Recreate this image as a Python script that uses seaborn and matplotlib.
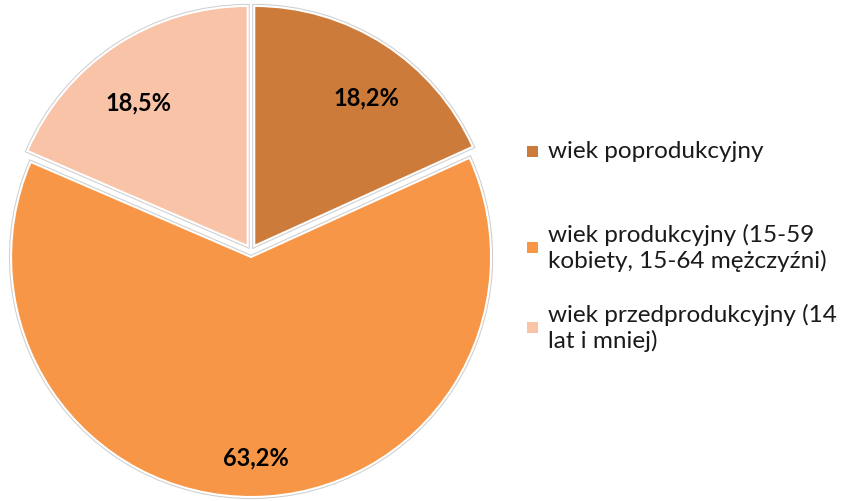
import seaborn as sns
import matplotlib.pyplot as plt
import matplotlib.patheffects as pe
from matplotlib.patches import Rectangle

sns.set_style('white')
plt.rcParams['font.family'] = ['Lato', 'DejaVu Sans']

# dane
kategorie = ['wiek poprodukcyjny',
             'wiek produkcyjny (15-59\nkobiety, 15-64 mężczyźni)',
             'wiek przedprodukcyjny (14\nlat i mniej)']
udzialy = [18.2, 63.2, 18.5]
etykiety = ['18,2%', '63,2%', '18,5%']
kolory = ['#CD7B3A', '#F79646', '#F9C3A8']

W, H = 843, 502
fig = plt.figure(figsize=(W / 100, H / 100), dpi=100)

# os kola - promien 240 px, srodek (251, 252)
R = 240
cx, cy = 251, 252
lim = 1.04
ax = fig.add_axes([(cx - lim * R) / W, (H - cy - lim * R) / H,
                   2 * lim * R / W, 2 * lim * R / H])

wedges, texts = ax.pie(udzialy, colors=kolory, startangle=90, counterclock=False,
                       explode=[0.025, 0.025, 0.025], radius=1,
                       wedgeprops=dict(edgecolor='white', linewidth=1.5))
for w in wedges:
    w.set_path_effects([pe.Stroke(linewidth=3, foreground='#cfcfcf'), pe.Normal()])

# etykiety procentowe
pozycje = [(0.48, 0.64), (0.02, -0.86), (-0.47, 0.62)]
for (x, y), t in zip(pozycje, etykiety):
    ax.text(x, y, t, ha='center', va='center', fontsize=17, fontweight='bold', color='black')

ax.set_xlim(-lim, lim)
ax.set_ylim(-lim, lim)
ax.set_aspect('equal')
ax.axis('off')

# legenda
legenda_y = [152, 248, 328]
for y, k, c in zip(legenda_y, kategorie, kolory):
    fig.patches.append(Rectangle((527 / W, 1 - (y + 5.5) / H), 11 / W, 11 / H,
                                 transform=fig.transFigure, facecolor=c, edgecolor='none'))
    fig.text(548 / W, 1 - y / H, k, ha='left', va='center', fontsize=17.5,
             linespacing=1.2, color='#1a1a1a')

fig.savefig('out.png', dpi=100)
